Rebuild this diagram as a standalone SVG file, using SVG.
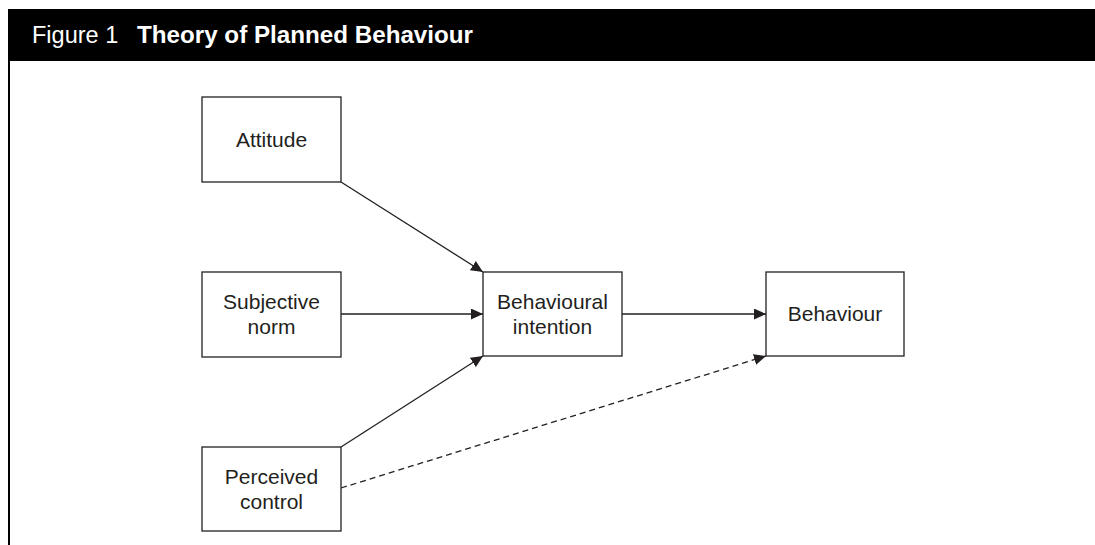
<svg xmlns="http://www.w3.org/2000/svg" width="1095" height="545" viewBox="0 0 1095 545">
<style>
.box{fill:#fff;stroke:#231f20;stroke-width:1.3}
.lbl{font-family:"Liberation Sans",Arial,sans-serif;font-size:21px;fill:#231f20;text-anchor:middle}
.conn{stroke:#231f20;stroke-width:1.3;fill:none}
.dash{stroke-dasharray:6 4}
</style>
<defs>
<marker id="ah" viewBox="0 0 12 11" refX="12" refY="5.5" markerWidth="12" markerHeight="11" markerUnits="userSpaceOnUse" orient="auto">
<path d="M0,0 L12,5.5 L0,11 Z" fill="#231f20"/>
</marker>
</defs>
<rect x="0" y="0" width="1095" height="545" fill="#fff"/>
<g id="header">
<rect x="8" y="9" width="1087" height="52" fill="#000"/>
<line x1="9" y1="61" x2="9" y2="545" stroke="#000" stroke-width="2"/>
<text x="32" y="43" font-family="'Liberation Sans',Arial,sans-serif" font-size="23.5" fill="#fff">Figure 1</text>
<text x="137" y="43" font-family="'Liberation Sans',Arial,sans-serif" font-size="24.2" font-weight="bold" fill="#fff">Theory of Planned Behaviour</text>
</g>
<g id="connectors">
<line class="conn" x1="341" y1="182" x2="483" y2="272" marker-end="url(#ah)"/>
<line class="conn" x1="341" y1="314" x2="483" y2="314" marker-end="url(#ah)"/>
<line class="conn" x1="341" y1="447" x2="483" y2="356" marker-end="url(#ah)"/>
<line class="conn" x1="622" y1="314" x2="766" y2="314" marker-end="url(#ah)"/>
<line class="conn dash" x1="341" y1="488" x2="766" y2="356" marker-end="url(#ah)"/>
</g>
<g id="attitude">
<rect class="box" x="202" y="97" width="139" height="85"/>
<text class="lbl" x="271.5" y="147">Attitude</text>
</g>
<g id="subjective-norm">
<rect class="box" x="202" y="272" width="139" height="85"/>
<text class="lbl" x="271.5" y="309">Subjective</text>
<text class="lbl" x="271.5" y="334">norm</text>
</g>
<g id="perceived-control">
<rect class="box" x="202" y="447" width="139" height="84"/>
<text class="lbl" x="271.5" y="484">Perceived</text>
<text class="lbl" x="271.5" y="509">control</text>
</g>
<g id="behavioural-intention">
<rect class="box" x="483" y="272" width="139" height="84"/>
<text class="lbl" x="552.5" y="309">Behavioural</text>
<text class="lbl" x="552.5" y="334">intention</text>
</g>
<g id="behaviour">
<rect class="box" x="766" y="272" width="138" height="84"/>
<text class="lbl" x="835" y="321">Behaviour</text>
</g>
</svg>
